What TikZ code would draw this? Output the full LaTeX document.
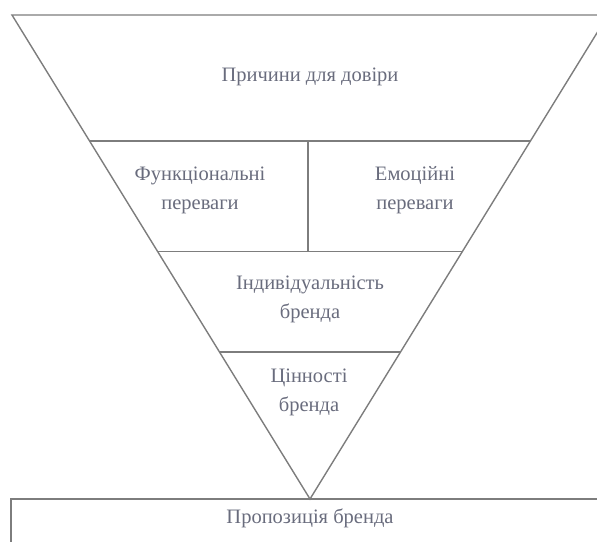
\documentclass[tikz,border=0pt]{standalone}
\usepackage{fontspec}
\setmainfont{Liberation Serif}
\definecolor{linec}{RGB}{125,125,125}
\definecolor{txtc}{RGB}{105,108,125}
\tikzset{
  edge/.style={draw=linec,line width=1.4pt},
  lbl/.style={text=txtc,font=\fontsize{20.5}{29}\selectfont,align=center,inner sep=0pt}
}
\begin{document}
\begin{tikzpicture}[x=1pt,y=-1pt]
\useasboundingbox (0,0) rectangle (597,541);
\clip (0,0) rectangle (597,541);
\coordinate (tl) at (12,15);
\coordinate (tr) at (608,15);
\coordinate (ap) at (310,499);
\draw[edge,line join=miter] (tr) -- (tl) -- (ap) -- cycle;
\draw[edge] (89.6,141) -- (530.4,141);
\draw[edge] (157.7,251.5) -- (462.3,251.5);
\draw[edge] (219.6,352) -- (400.4,352);
\draw[edge] (308,141) -- (308,251.5);
\draw[edge] (11,560) -- (11,499) -- (620,499);
\node[lbl] (trust) at (310,77) {Причини для довіри};
\node[lbl] (func) at (200,190) {Функціональні\\переваги};
\node[lbl] (emo) at (415,190) {Емоційні\\переваги};
\node[lbl] (ind) at (310,299) {Індивідуальність\\бренда};
\node[lbl] (val) at (309,392) {Цінності\\бренда};
\node[lbl] (prop) at (310,518) {Пропозиція бренда};
\end{tikzpicture}
\end{document}
